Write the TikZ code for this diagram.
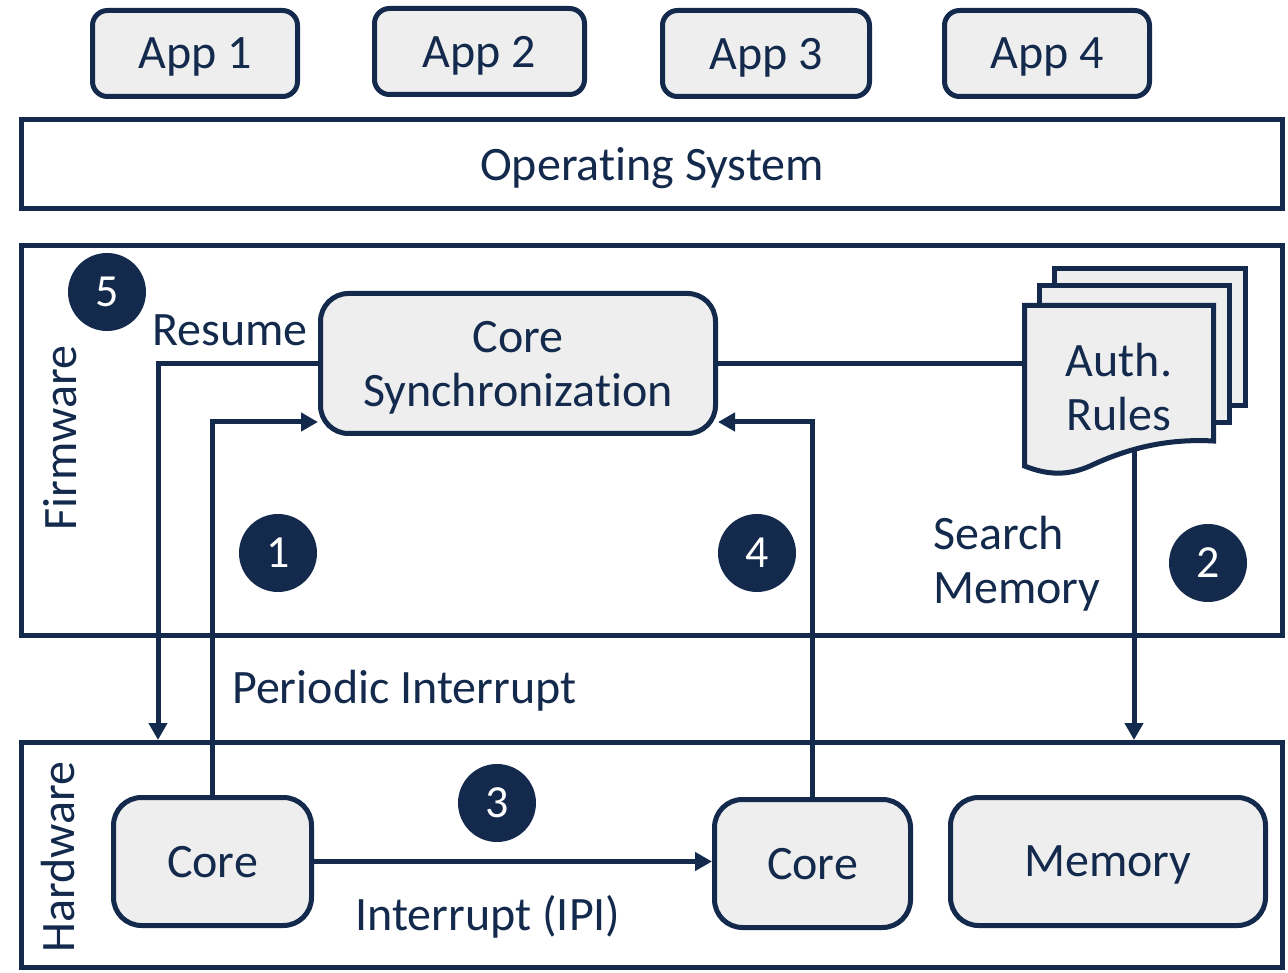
\documentclass[tikz,border=0pt]{standalone}
\usepackage{fontspec}
\setmainfont{Carlito}[RawFeature={-liga;-clig;-calt;-dlig}]
\usetikzlibrary{arrows.meta,calc}
\definecolor{navy}{HTML}{132A4D}
\definecolor{boxgray}{HTML}{EEEEEE}

\begin{document}
\begin{tikzpicture}[x=1pt,y=-1pt,
  every node/.style={text=navy, font=\fontsize{48}{54}\selectfont, text depth=0pt},
  layer/.style={draw=navy, line width=5pt, fill=white, inner sep=0pt},
  appbox/.style={draw=navy, line width=5pt, fill=boxgray, rounded corners=15pt, inner sep=0pt, minimum height=86pt},
  unitbox/.style={draw=navy, line width=5pt, fill=boxgray, rounded corners=28pt, inner sep=0pt},
  docsheet/.style={draw=navy, line width=5pt, fill=boxgray, line join=miter},
  conn/.style={draw=navy, line width=5pt},
  arr/.style={conn, -{Triangle[length=17pt,width=18pt]}},
  badge/.style={circle, fill=navy, minimum size=78pt, inner sep=0pt, text=white, font=\fontsize{46}{50}\selectfont},
  lbl/.style={inner sep=0pt}]
\useasboundingbox (0,0) rectangle (1288,973);

% application layer
\node[appbox, minimum width=205pt] (app1) at (195,53.5) {App 1};
\node[appbox, minimum width=210pt] (app2) at (479.5,51.5) {App 2};
\node[appbox, minimum width=207pt] (app3) at (766,53.5) {App 3};
\node[appbox, minimum width=205pt] (app4) at (1047,53.5) {App 4};

% operating system
\node[layer, minimum width=1261pt, minimum height=89pt] (os) at (652,164) {Operating System};

% firmware and hardware frames
\node[layer, minimum width=1261pt, minimum height=390pt] (fw) at (652,440.5) {};
\node[layer, minimum width=1261pt, minimum height=225pt] (hw) at (652,855) {};
\node[lbl, rotate=90] (fwlabel) at (60,438) {Firmware};
\node[lbl, rotate=90] (hwlabel) at (58,857) {Hardware};

% firmware contents
\node[unitbox, minimum width=395pt, minimum height=140pt, align=center] (sync) at (518,363.5) {Core\\Synchronization};

% helper coordinates for the routed connectors
\coordinate (pi) at (0,422);
\coordinate (rsx) at (158,0);
\coordinate (sm) at (1134,440);

% search memory connector (starts beneath the rule sheets)
\draw[arr] (sm) -- (sm |- hw.north);

% stack of authorisation rule sheets
\draw[docsheet] (1054.5,268.5) rectangle (1245.5,405.5);
\draw[docsheet] (1039.5,286) rectangle (1229,423);
\draw[docsheet] (1024.5,305.5) -- (1213.5,305.5) -- (1213.5,441)
  .. controls (1160,438) and (1120,452) .. (1090,466)
  .. controls (1065,477) and (1045,474) .. (1024.5,466) -- cycle;
\node[lbl, minimum width=189pt, align=center] (auth) at (1119,387) {Auth.\\Rules};

% hardware contents
\node[unitbox, minimum width=198pt, minimum height=128pt] (core1) at (212.5,861.5) {Core};
\node[unitbox, minimum width=196pt, minimum height=128pt] (core2) at (812.5,863.5) {Core};
\node[unitbox, minimum width=315pt, minimum height=128pt] (mem) at (1108,861.5) {Memory};

% connectors
\draw[conn] (sync.east) -- (sync.east -| auth.west);
\draw[arr] (sync.west) -| (rsx |- hw.north);
\draw[arr] (core1.north) |- (sync.west |- pi);
\draw[arr] (core2.north) |- (sync.east |- pi);
\draw[arr] (core1.east) -- (core1.east -| core2.west);

% connector labels
\node[lbl] (resume) at (230,330) {Resume};
\node[lbl, anchor=west] (periodic) at (232,687) {Periodic Interrupt};
\node[lbl] (ipi) at (488,913) {Interrupt (IPI)};
\node[lbl, anchor=west, align=left] (search) at (933,560) {Search\\Memory};

% step numbers
\node[badge] (b5) at (107,292) {5};
\node[badge] (b1) at (278,553) {1};
\node[badge] (b4) at (757,553) {4};
\node[badge] (b2) at (1208,563) {2};
\node[badge] (b3) at (497,803) {3};
\end{tikzpicture}
\end{document}
